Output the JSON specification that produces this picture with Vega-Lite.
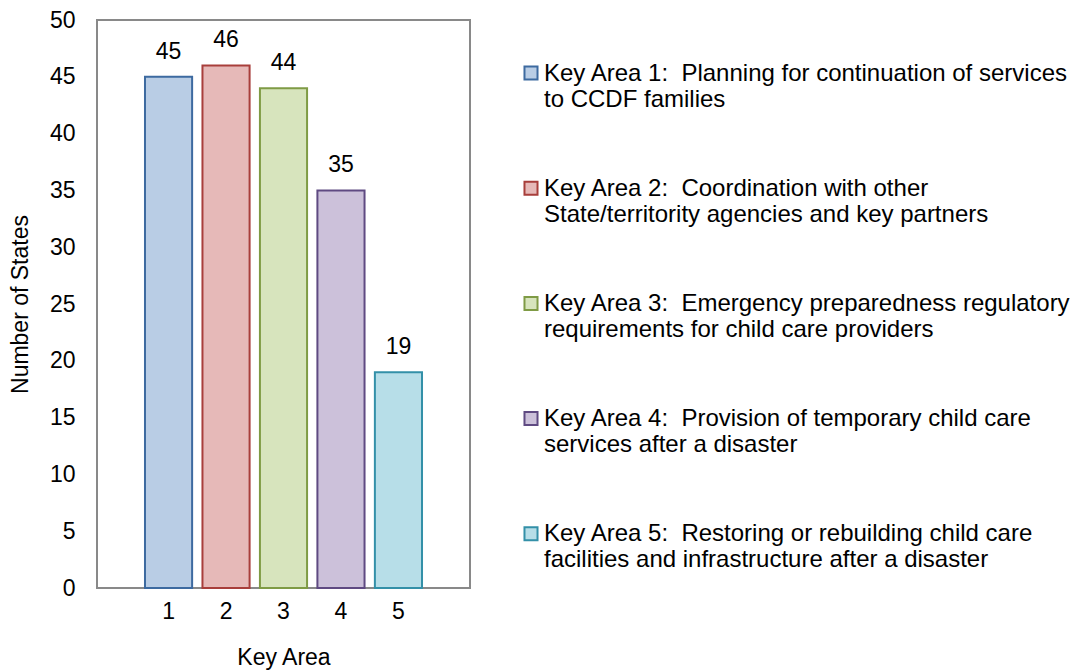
{
  "$schema": "https://vega.github.io/schema/vega-lite/v6.json",
  "width": 373,
  "height": 568,
  "autosize": {"type": "none"},
  "padding": {"left": 97, "top": 20, "right": 610, "bottom": 83},
  "background": "white",
  "config": {
    "view": {"stroke": "#898989", "strokeWidth": 2},
    "font": "Liberation Sans",
    "text": {"font": "Liberation Sans"}
  },
  "data": {
    "values": [
      {"key": "1", "states": 45, "legend": "Key Area 1:\u00a0 Planning for continuation of services|to CCDF families"},
      {"key": "2", "states": 46, "legend": "Key Area 2:\u00a0 Coordination with other|State/territority agencies and key partners"},
      {"key": "3", "states": 44, "legend": "Key Area 3:\u00a0 Emergency preparedness regulatory|requirements for child care providers"},
      {"key": "4", "states": 35, "legend": "Key Area 4:\u00a0 Provision of temporary child care|services after a disaster"},
      {"key": "5", "states": 19, "legend": "Key Area 5:\u00a0 Restoring or rebuilding child care|facilities and infrastructure after a disaster"}
    ]
  },
  "encoding": {
    "x": {
      "field": "key",
      "type": "ordinal",
      "scale": {"paddingInner": 0.18, "paddingOuter": 0.835},
      "axis": {
        "title": "Key Area",
        "labelAngle": 0,
        "labelFontSize": 23,
        "labelColor": "#000",
        "labelPadding": 12,
        "ticks": false,
        "domain": false,
        "titleFontSize": 23,
        "titleFontWeight": "normal",
        "titleColor": "#000",
        "titleX": 186.5,
        "titleY": 69,
        "titleBaseline": "middle"
      }
    },
    "y": {
      "field": "states",
      "type": "quantitative",
      "scale": {"domain": [0, 50]},
      "axis": {
        "title": "Number of States",
        "values": [0, 5, 10, 15, 20, 25, 30, 35, 40, 45, 50],
        "labelFontSize": 23,
        "labelColor": "#000",
        "labelPadding": 22,
        "ticks": false,
        "domain": false,
        "grid": false,
        "titleFontSize": 23,
        "titleFontWeight": "normal",
        "titleColor": "#000",
        "titleX": -77,
        "titleY": 284,
        "titleAngle": -90,
        "titleAlign": "center",
        "titleBaseline": "middle"
      }
    }
  },
  "layer": [
    {
      "mark": {"type": "bar", "strokeWidth": 2},
      "encoding": {
        "fill": {
          "field": "legend",
          "type": "nominal",
          "scale": {"range": ["#B9CDE5", "#E6B9B8", "#D7E4BD", "#CCC1DA", "#B7DEE8"]},
          "legend": {
            "title": null,
            "orient": "none",
            "legendX": 422,
            "legendY": 41,
            "symbolType": "square",
            "symbolSize": 170,
            "symbolStrokeWidth": 2,
            "labelExpr": "split(datum.label, '|')",
            "labelFontSize": 24,
            "labelLineHeight": 26,
            "labelColor": "#000",
            "labelLimit": 700,
            "labelOffset": 1,
            "labelBaseline": "top",
            "rowPadding": 64.2,
            "encode": {"labels": {"update": {"dy": {"value": -11.5}}}}
          }
        },
        "stroke": {
          "field": "legend",
          "type": "nominal",
          "scale": {"range": ["#3D6AA0", "#A83E3B", "#7F9B45", "#5F4A82", "#3390A8"]},
          "legend": null
        }
      }
    },
    {
      "mark": {"type": "text", "baseline": "bottom", "dy": -13, "fontSize": 23, "color": "#000"},
      "encoding": {"text": {"field": "states", "type": "quantitative"}}
    }
  ]
}
